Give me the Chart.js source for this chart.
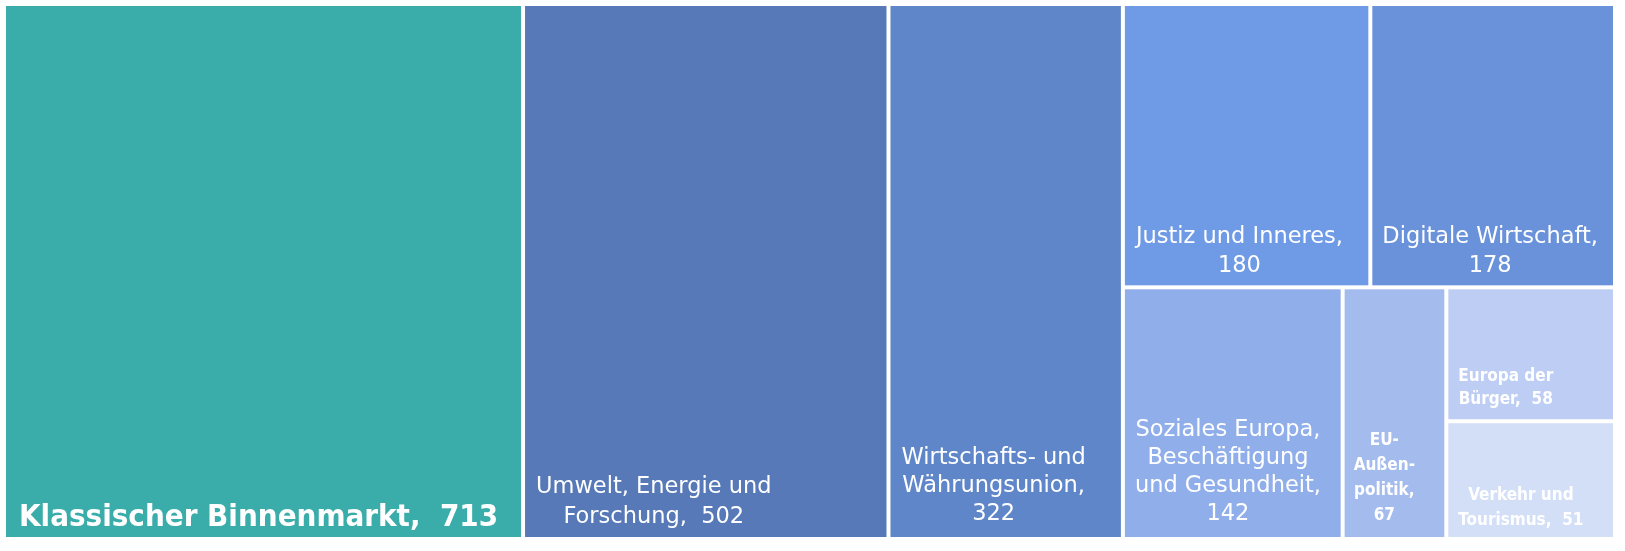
<!DOCTYPE html>
<html lang="de">
<head>
<meta charset="utf-8">
<title>Treemap</title>
<script src="https://cdn.jsdelivr.net/npm/chart.js@4"></script>
<style>
  html, body { margin: 0; padding: 0; background: #ffffff; }
  #wrap { position: relative; width: 1625px; height: 551px; }
</style>
</head>
<body>
<div id="wrap"><canvas id="tm"></canvas></div>
<script>
/* ======================================================================
   Daten
====================================================================== */
const categories = [
    "Klassischer Binnenmarkt",
    "Umwelt, Energie und Forschung",
    "Wirtschafts- und Währungsunion",
    "Justiz und Inneres",
    "Digitale Wirtschaft",
    "Soziales Europa, Beschäftigung und Gesundheit",
    "EU-Außenpolitik",
    "Europa der Bürger",
    "Verkehr und Tourismus"
];
const values = [713, 502, 322, 180, 178, 142, 67, 58, 51];

// Beschriftung wie im Original umbrochen ({v} = Wert)
const labelText = [
    "Klassischer Binnenmarkt,  {v}",
    "Umwelt, Energie und\nForschung,  {v}",
    "Wirtschafts- und\nWährungsunion,\n{v}",
    "Justiz und Inneres,\n{v}",
    "Digitale Wirtschaft,\n{v}",
    "Soziales Europa,\nBeschäftigung\nund Gesundheit,\n{v}",
    "EU-\nAußen-\npolitik,\n{v}",
    "Europa der\nBürger,  {v}",
    "Verkehr und\nTourismus,  {v}"
];

// Aufteilung: row = nebeneinander, col = übereinander
const layoutTree = { dir: "row", kids: [0, 1, 2, { dir: "col", kids: [
    { dir: "row", kids: [3, 4] },
    { dir: "row", kids: [5, 6, { dir: "col", kids: [7, 8] }] }
] }] };

/* ======================================================================
   Stil
====================================================================== */
const colors = ["#3AACAA", "#5779B7", "#6086CA", "#6E9AE6", "#6992DA",
                "#8FAEEA", "#A4BBEE", "#BDCDF3", "#D3DEF7"];

const labelStyle = [
    { size: 31,   bold: true,  lh: 36, pad: 13, bottom: 11 },
    { size: 22.5, bold: false, lh: 30, pad: 11, bottom: 14 },
    { size: 22.5, bold: false, lh: 28, pad: 11, bottom: 17 },
    { size: 22.5, bold: false, lh: 29, pad: 11, bottom: 13 },
    { size: 22.5, bold: false, lh: 29, pad: 10, bottom: 13 },
    { size: 22.5, bold: false, lh: 28, pad: 10, bottom: 17 },
    { size: 17,   bold: true,  lh: 25, pad: 9,  bottom: 17 },
    { size: 17,   bold: true,  lh: 23, pad: 10, bottom: 15 },
    { size: 17,   bold: true,  lh: 25, pad: 10, bottom: 12 }
];
const FONT_BOLD = "'DejaVu Sans Condensed', 'DejaVu Sans', sans-serif";
const FONT_REG = "'DejaVu Sans', sans-serif";
const GAP = 2;

/* ======================================================================
   Layout in Datenkoordinaten (x: Summe der Werte, y: 0..1)
====================================================================== */
const total = values.reduce((a, b) => a + b, 0);

function nodeSum(n) {
    return typeof n === "number" ? values[n] : n.kids.reduce((s, k) => s + nodeSum(k), 0);
}

function place(n, x0, x1, y0, y1, out) {
    if (typeof n === "number") { out[n] = { x0, x1, y0, y1 }; return out; }
    const sum = nodeSum(n);
    let pos = n.dir === "row" ? x0 : y1;
    n.kids.forEach(k => {
        const f = nodeSum(k) / sum;
        if (n.dir === "row") {
            const w = (x1 - x0) * f;
            place(k, pos, pos + w, y0, y1, out);
            pos += w;
        } else {
            const h = (y1 - y0) * f;
            place(k, x0, x1, pos - h, pos, out);
            pos -= h;
        }
    });
    return out;
}

const rects = place(layoutTree, 0, total, 0, 1, []);

/* ======================================================================
   Treemap-Plugin: Rechtecke über die Chart.js-Skalen zeichnen
====================================================================== */
const treemapPlugin = {
    id: "treemap",
    beforeDatasetsDraw(chart) {
        const { ctx, scales: { x, y } } = chart;
        ctx.save();
        rects.forEach((r, i) => {
            const left = x.getPixelForValue(r.x0) + GAP;
            const right = x.getPixelForValue(r.x1) - GAP;
            const top = y.getPixelForValue(r.y1) + GAP;
            const bottom = y.getPixelForValue(r.y0) - GAP;
            ctx.fillStyle = colors[i];
            ctx.fillRect(left, top, right - left, bottom - top);

            const st = labelStyle[i];
            const lines = labelText[i].replace("{v}", values[i]).split("\n");
            ctx.font = st.bold ? "bold " + st.size + "px " + FONT_BOLD : st.size + "px " + FONT_REG;
            ctx.fillStyle = "#ffffff";
            ctx.textAlign = "center";
            ctx.textBaseline = "alphabetic";
            const blockW = Math.max(...lines.map(l => ctx.measureText(l).width));
            const cx = left + st.pad + blockW / 2;
            const last = bottom - st.bottom;
            lines.forEach((l, j) => {
                ctx.fillText(l, cx, last - (lines.length - 1 - j) * st.lh);
            });
        });
        ctx.restore();
    }
};

new Chart(document.getElementById("tm"), {
    type: "scatter",
    data: {
        datasets: [{
            label: "Treemap",
            data: rects.map((r, i) => ({ x: (r.x0 + r.x1) / 2, y: (r.y0 + r.y1) / 2, v: values[i] })),
            pointRadius: 0,
            pointHoverRadius: 0
        }]
    },
    options: {
        responsive: true,
        maintainAspectRatio: false,
        animation: false,
        layout: { padding: { left: 4, top: 4, right: 10, bottom: 12 } },
        plugins: { legend: { display: false }, tooltip: { enabled: false } },
        scales: {
            x: { type: "linear", min: 0, max: total, display: false },
            y: { type: "linear", min: 0, max: 1, display: false }
        }
    },
    plugins: [treemapPlugin]
});
</script>
</body>
</html>
